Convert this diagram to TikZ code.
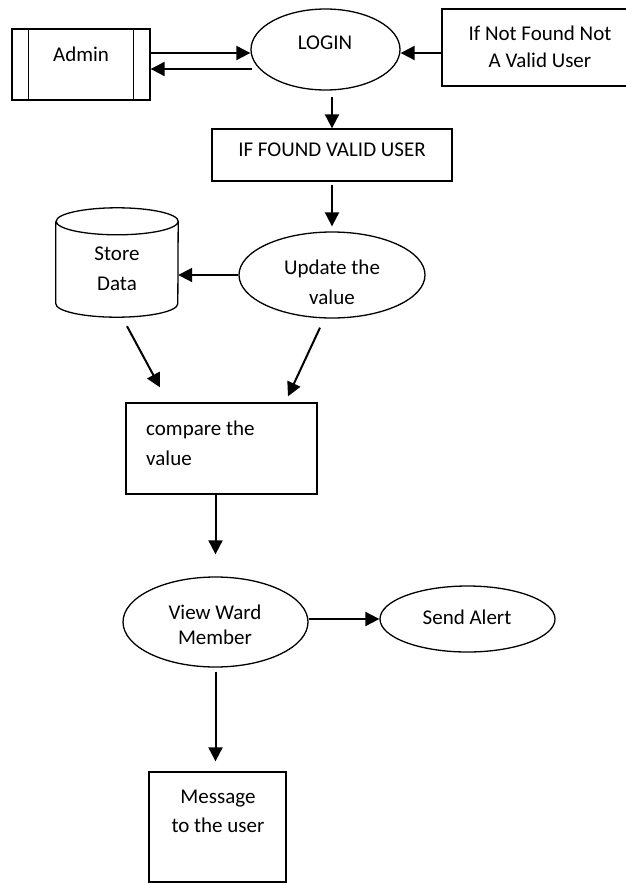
\documentclass[tikz,border=0pt]{standalone}
\usepackage{fontspec}
\setmainfont{Carlito}
\usetikzlibrary{shapes.geometric,arrows.meta}

\begin{document}
\begin{tikzpicture}[x=1pt,y=1pt,
  box/.style={draw, line width=1.3pt, rectangle},
  oval/.style={draw, line width=1.3pt, ellipse},
  drumlid/.style={x radius=61, y radius=13.5},
  txt/.style={font=\fontsize{21}{28}\selectfont, align=center},
  flow/.style={line width=2pt, -{Triangle[length=14pt,width=14pt]}}]
\tikzstyle{every node}+=[inner sep=0pt]
\useasboundingbox (0,0) rectangle (626,-883);
% shapes
\node (admin) [box, minimum width=138, minimum height=71] at (81,-64.5) {};
\draw [line width=1.3pt] ([xshift=17]admin.north west) -- ([xshift=17]admin.south west);
\draw [line width=1.3pt] ([xshift=-17]admin.north east) -- ([xshift=-17]admin.south east);
\node (login) [oval, minimum width=149, minimum height=81] at (325.5,-49.5) {};
\node (notfound) [box, minimum width=198, minimum height=77] at (541,-47.5) {};
\node (iffound) [box, minimum width=240, minimum height=52] at (332,-155) {};
\node (update) [oval, minimum width=186, minimum height=86] at (332,-275) {};
\node (store) [rectangle, minimum width=122, minimum height=109] at (117,-262.5) {};
\draw [line width=1.3pt] ([yshift=-13.5]store.north west) -- ([yshift=13.5]store.south west)
  arc [start angle=180, end angle=360, drumlid] -- ([yshift=-13.5]store.north east)
  arc [start angle=0, end angle=180, drumlid] arc [start angle=180, end angle=360, drumlid];
\node (compare) [box, minimum width=191, minimum height=91] at (221.5,-448.5) {};
\node (view) [oval, minimum width=185, minimum height=90] at (215.5,-622) {};
\node (alert) [oval, minimum width=175, minimum height=66] at (467.5,-619) {};
\node (message) [box, minimum width=137, minimum height=110] at (217.5,-827) {};
% texts
\node (admintxt) [txt] at (81,-54) {Admin};
\node (logintxt) [txt] at (325,-43) {LOGIN};
\node (notfoundtxt) [txt] at (540,-46.5) {If Not Found Not\\[-1pt] A Valid User};
\node (iffoundtxt) [txt] at (332,-150) {IF FOUND VALID USER};
\node (updatetxt) [txt] at (332,-282) {Update the\\[2pt] value};
\node (storetxt) [txt] at (117,-269) {Store\\[2pt] Data};
\node (comparetxt) [txt, align=left, anchor=west] at (146,-443) {compare the\\[2pt] value};
\node (viewtxt) [txt] at (215,-624.5) {View Ward\\[-3pt] Member};
\node (alerttxt) [txt] at (467,-617) {Send Alert};
\node (messagetxt) [txt] at (218,-811.5) {Message\\[1pt] to the user};
% arrows
\draw [flow] ([yshift=11.5]admin.east) -- ([yshift=11.5]admin.east -| login.west);
\draw [flow] ([yshift=-4.5,xshift=2]admin.east -| login.west) -- ([yshift=-4.5]admin.east);
\draw [flow] ([yshift=-5.5]notfound.west) -- ([yshift=-5.5]notfound.west -| login.east);
\draw [flow] ([yshift=31]iffound.north) -- (iffound.north);
\draw [flow] ([yshift=-3]iffound.south) -- ([yshift=5]update.north);
\draw [flow] (update.west) -- (update.west -| store.east);
\draw [flow] ([shift={(10,-9)}]store.south) -- ([shift={(-61.5,15)}]compare.north);
\draw [flow] ([shift={(-12,-9)}]update.south) -- ([shift={(66.5,6)}]compare.north);
\draw [flow] (compare.south -| view.north) -- ([yshift=22]view.north);
\draw [flow] (view.east |- alert.west) -- (alert.west);
\draw [flow] ([yshift=-4]view.south) -- ([yshift=10]message.north -| view.south);
\end{tikzpicture}
\end{document}
